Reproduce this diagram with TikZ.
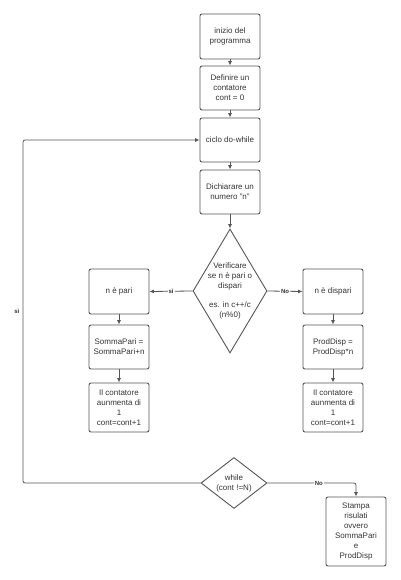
\documentclass[tikz,border=0pt]{standalone}
\usepackage{fontspec}
\setmainfont{Liberation Sans}
\usetikzlibrary{arrows.meta,shapes.geometric}
\definecolor{linegray}{HTML}{555555}
\definecolor{textgray}{HTML}{333333}

\begin{document}
\begin{tikzpicture}[x=1pt, y=-1pt,
    box/.style={draw=linegray, line width=0.9pt, rounded corners=2pt, minimum width=60pt, minimum height=44pt, inner sep=1pt, align=center, text=textgray, font=\fontsize{8}{10}\selectfont},
    decision/.style={draw=linegray, line width=0.9pt, diamond, inner sep=0pt},
    txt/.style={align=center, text=textgray, font=\fontsize{8}{10}\selectfont},
    arrow/.style={draw=linegray, line width=0.8pt, -{Latex[length=4.5pt,width=4pt]}},
    tag/.style={fill=white, inner sep=1pt, text=textgray, font=\fontsize{6}{7}\selectfont\bfseries}]
    \useasboundingbox (0,0) rectangle (400,580);

    % colonna centrale
    \node[box, minimum height=45pt] (start) at (230,36.5) {inizio del\\programma};
    \node[box] (define) at (230,88) {Definire un\\contatore\\cont = 0};
    \node[box] (loop) at (230,140) {ciclo do-while};
    \node[box] (number) at (230,192) {Dichiarare un\\numero "n"};
    \node[decision, minimum width=74pt, minimum height=124pt] (check) at (230,291) {};
    \node[txt] (checktext) at (check) {Verificare\\se n è pari o\\dispari\\[9pt]es. in c++/c\\(n\%0)};

    % ramo pari
    \node[box, minimum height=45pt] (even) at (119,291.5) {n è pari};
    \node[box] (sumeven) at (119,347) {SommaPari =\\SommaPari+n};
    \node[box, minimum height=49pt] (counteven) at (119,407.5) {Il contatore\\aunmenta di\\1\\cont=cont+1};

    % ramo dispari
    \node[box, minimum height=45pt] (odd) at (333,291.5) {n è dispari};
    \node[box] (prododd) at (333,347) {ProdDisp =\\ProdDisp*n};
    \node[box, minimum height=49pt] (countodd) at (333,407.5) {Il contatore\\aunmenta di\\1\\cont=cont+1};

    % fine ciclo
    \node[decision, minimum width=66pt, minimum height=51pt] (while) at (234,483) {};
    \node[txt] (whiletext) at (while) {while\\(cont !=N)};
    \node[box, minimum height=69pt] (print) at (356,531.5) {Stampa\\risulati\\ovvero\\SommaPari\\e\\ProdDisp};
    \coordinate (back) at (23,483);

    \draw[arrow] (start) -- (define);
    \draw[arrow] (define) -- (loop);
    \draw[arrow] (loop) -- (number);
    \draw[arrow] (number) -- (check);
    \draw[arrow] (check.west) -- node[tag] {sì} (even.east);
    \draw[arrow] (check.east) -- node[tag] {No} (odd.west);
    \draw[arrow] (even) -- (sumeven);
    \draw[arrow] (sumeven) -- (counteven);
    \draw[arrow] (odd) -- (prododd);
    \draw[arrow] (prododd) -- (countodd);
    \draw[arrow, rounded corners=2pt] (while.west) -- (back) |- node[pos=0.25, left, text=textgray, font=\fontsize{6}{7}\selectfont\bfseries] {sì} (loop.west);
    \draw[arrow, rounded corners=2pt] (while.east) -| node[tag, pos=0.29] {No} (print.north);
\end{tikzpicture}
\end{document}
